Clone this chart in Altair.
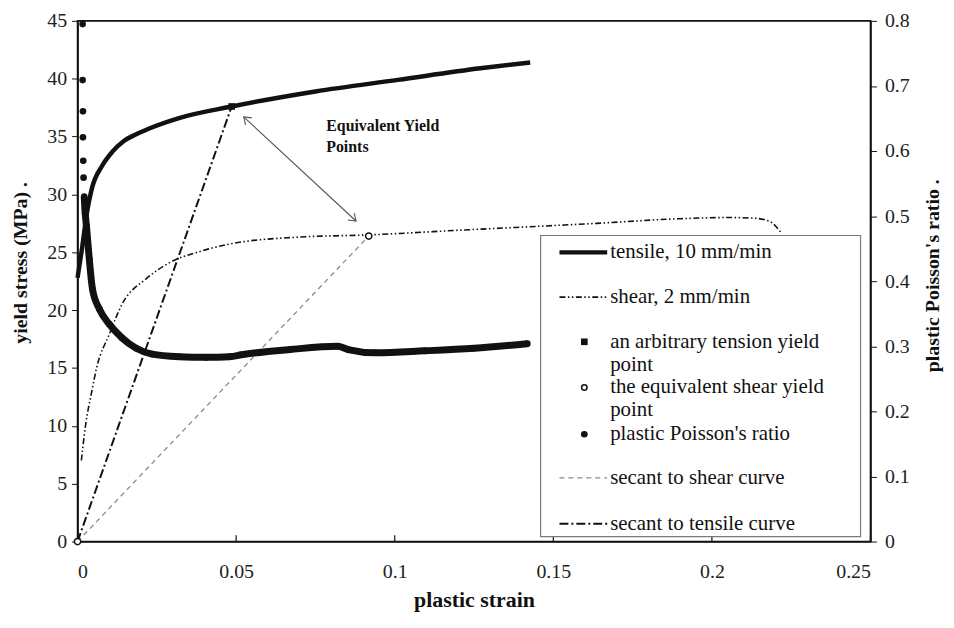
import altair as alt
import pandas as pd

# ---------------- data ----------------
tensile_x = [0.0, 0.0015, 0.003, 0.0045, 0.0078, 0.011, 0.0145, 0.0185, 0.0226, 0.032, 0.0486, 0.075, 0.101, 0.127, 0.1427]
tensile_y = [22.8, 25.5, 28.5, 30.5, 32.5, 33.7, 34.6, 35.2, 35.7, 36.6, 37.6, 38.9, 39.9, 40.9, 41.4]

shear_x = [0.0012, 0.0025, 0.0045, 0.006, 0.010, 0.014, 0.0216, 0.029, 0.039, 0.0477, 0.069, 0.0918,
           0.12, 0.1637, 0.19, 0.205, 0.213, 0.218, 0.2218]
shear_y = [7.0, 10.0, 13.0, 15.0, 17.9, 20.5, 22.7, 24.1, 25.1, 25.7, 26.3, 26.5,
           26.9, 27.5, 27.9, 28.0, 27.95, 27.7, 26.7]

poisson_x = [0.0016, 0.0016, 0.0017, 0.0017, 0.0018, 0.0019, 0.0021, 0.0024, 0.0028, 0.0037, 0.0047,
             0.0069, 0.010, 0.014, 0.0185, 0.0235, 0.032, 0.0405, 0.048, 0.0517, 0.067, 0.082,
             0.0853, 0.094, 0.1095, 0.125, 0.1418]
poisson_v = [0.795, 0.709, 0.661, 0.621, 0.585, 0.559, 0.530, 0.505, 0.485, 0.434, 0.388,
             0.357, 0.334, 0.313, 0.297, 0.288, 0.284, 0.283, 0.284, 0.287, 0.295, 0.300,
             0.295, 0.290, 0.293, 0.297, 0.304]

tension_pt_x = [0.0486]
tension_pt_y = [37.6]
shear_pt_x = [0.0, 0.0918]
shear_pt_y = [0.0, 26.4]

secant_t_x = [0.0, 0.0486]
secant_t_y = [0.0, 37.6]
secant_s_x = [0.0, 0.0918]
secant_s_y = [0.0, 26.4]

arrow_x = [0.0524, 0.0878]
arrow_y = [36.7, 27.7]
arrow_angle = [222, 42]

note_x = [0.0784]
note_y = [35.9]
note_text = ["Equivalent Yield\nPoints"]

x_ticks = [0, 0.05, 0.1, 0.15, 0.2, 0.25]
y_ticks = [0, 5, 10, 15, 20, 25, 30, 35, 40, 45]
r_ticks = [0, 0.1, 0.2, 0.3, 0.4, 0.5, 0.6, 0.7, 0.8]

legend_labels = ["tensile, 10 mm/min", "shear, 2 mm/min", "an arbitrary tension yield", "point",
                 "the equivalent shear yield", "point", "plastic Poisson's ratio",
                 "secant to shear curve", "secant to tensile curve"]

# ---------------- styling ----------------
FONT = "Liberation Serif"
INK = "#111111"
W, H = 798, 524
DASH_SHEAR = [6, 2.5, 1.5, 2.5, 1.5, 2.5]
DASH_SEC_T = [9, 3, 2, 3]
DASH_SEC_S = [5, 4]

xs = alt.Scale(domain=[0, 0.25], nice=False, zero=False)
ys = alt.Scale(domain=[0, 45], nice=False)
rs = alt.Scale(domain=[0, 0.8], nice=False)

tens_df = pd.DataFrame({"x": tensile_x, "y": tensile_y})
shear_df = pd.DataFrame({"x": shear_x, "y": shear_y})
pois_df = pd.DataFrame({"x": poisson_x, "v": poisson_v, "i": list(range(len(poisson_x)))})
tpt_df = pd.DataFrame({"x": tension_pt_x, "y": tension_pt_y})
spt_df = pd.DataFrame({"x": shear_pt_x, "y": shear_pt_y})
sect_df = pd.DataFrame({"x": secant_t_x, "y": secant_t_y})
secs_df = pd.DataFrame({"x": secant_s_x, "y": secant_s_y})
arrow_df = pd.DataFrame({"x": arrow_x, "y": arrow_y, "a": arrow_angle})
note_df = pd.DataFrame({"x": note_x, "y": note_y, "t": note_text})
xt_df = pd.DataFrame({"x": x_ticks, "y": [0.0] * len(x_ticks), "y1": [0.55] * len(x_ticks)})

x_axis = alt.Axis(values=x_ticks, format="~g", title="plastic strain", grid=False,
                  ticks=False, tickSize=0, labelPadding=20, domainColor=INK, domainWidth=1.6,
                  labelFont=FONT, labelFontSize=20, labelColor="#222", titleFont=FONT,
                  titleFontSize=22, titleFontWeight="bold", titleColor=INK,
                  titleX=399, titleY=58, titleBaseline="middle")
y_axis = alt.Axis(values=y_ticks, title="yield stress (MPa) .", grid=False, tickSize=6,
                  tickColor=INK, labelPadding=5, domainColor=INK, domainWidth=1.6,
                  labelFont=FONT, labelFontSize=20, labelColor="#222", titleFont=FONT,
                  titleFontSize=20, titleFontWeight="bold", titleColor=INK,
                  titleAngle=270, titleBaseline="middle", titleX=-57, titleY=243)
r_axis = alt.Axis(values=r_ticks, format="~g", orient="right", title="plastic Poisson's ratio .",
                  grid=False, tickSize=6, tickColor=INK, labelPadding=8, domainColor=INK,
                  domainWidth=1.6, labelFont=FONT, labelFontSize=20, labelColor="#222",
                  titleFont=FONT, titleFontSize=20, titleFontWeight="bold", titleColor=INK,
                  titleAngle=270, titleBaseline="middle", titleX=62, titleY=256)

X = alt.X("x:Q", scale=xs, axis=x_axis)
Y = alt.Y("y:Q", scale=ys, axis=y_axis)

xtick_rules = alt.Chart(xt_df).mark_rule(color=INK, strokeWidth=1.2).encode(x=X, y=Y, y2="y1:Q")
secant_s = alt.Chart(secs_df).mark_line(color="#8a8a8a", strokeWidth=1.3, strokeDash=DASH_SEC_S).encode(x=X, y=Y)
secant_t = alt.Chart(sect_df).mark_line(color=INK, strokeWidth=2, strokeDash=DASH_SEC_T).encode(x=X, y=Y)
shear_line = alt.Chart(shear_df).mark_line(color=INK, strokeWidth=1.6, strokeDash=DASH_SHEAR,
                                           interpolate="monotone").encode(x=X, y=Y)
tens_line = alt.Chart(tens_df).mark_line(color=INK, strokeWidth=4.5, interpolate="monotone").encode(x=X, y=Y)
tpt = alt.Chart(tpt_df).mark_point(shape="square", filled=True, color=INK, size=45, opacity=1).encode(x=X, y=Y)
spt = alt.Chart(spt_df).mark_point(shape="circle", filled=True, fill="white", stroke=INK, strokeWidth=1.5,
                                   size=40, opacity=1).encode(x=X, y=Y)
arrow_line = alt.Chart(arrow_df).mark_line(color="#555555", strokeWidth=1.1).encode(x=X, y=Y)
arrow_heads = alt.Chart(arrow_df).mark_point(
    shape="M-1,-0.7L0,0L-1,0.7", filled=False, color="#555555", strokeWidth=1.1, size=180, opacity=1
).encode(x=X, y=Y, angle=alt.Angle("a:Q", scale=None))
note = alt.Chart(note_df).mark_text(font=FONT, fontSize=16, fontWeight="bold", color=INK, align="left",
                                    baseline="middle", lineBreak="\n", lineHeight=21).encode(
    x=X, y=Y, text="t:N")

left = alt.layer(xtick_rules, secant_s, secant_t, shear_line, tens_line, tpt, spt,
                 arrow_line, arrow_heads, note)

RY = alt.Y("v:Q", scale=rs, axis=r_axis)
pois_line = alt.Chart(pois_df).transform_filter("datum.i >= 6").mark_line(
    color=INK, strokeWidth=7, interpolate="monotone").encode(x=X, y=RY)
pois_pts = alt.Chart(pois_df).mark_point(shape="circle", filled=True, color=INK, size=45, opacity=1).encode(
    x=X, y=RY)
right = alt.layer(pois_line, pois_pts)

# ---------------- manual legend (pixel positions inside the plot area) ----------------
one = pd.DataFrame({"k": [0]})
leg_layers = [alt.Chart(one).mark_rect(fill="white", stroke="#7a7a7a", strokeWidth=1.2).encode(
    x=alt.value(466), x2=alt.value(788), y=alt.value(216), y2=alt.value(519))]

leg_y = [233, 278, 323, 346, 369, 392, 416, 460, 506]
for lab, yy in zip(legend_labels, leg_y):
    leg_layers.append(alt.Chart(one).mark_text(font=FONT, fontSize=21, color=INK, align="left",
                                               baseline="middle").encode(
        x=alt.value(536), y=alt.value(yy), text=alt.value(lab)))


def leg_line(y, **kw):
    return alt.Chart(one).mark_rule(**kw).encode(x=alt.value(485), x2=alt.value(533), y=alt.value(y))


def leg_pt(y, **kw):
    return alt.Chart(one).mark_point(opacity=1, **kw).encode(x=alt.value(510), y=alt.value(y))


leg_layers += [
    leg_line(leg_y[0], color=INK, strokeWidth=4.5),
    leg_line(leg_y[1], color=INK, strokeWidth=1.6, strokeDash=DASH_SHEAR),
    leg_pt(leg_y[2], shape="square", filled=True, color=INK, size=45),
    leg_pt(leg_y[4], shape="circle", filled=True, fill="white", stroke=INK, strokeWidth=1.5, size=30),
    leg_pt(leg_y[6], shape="circle", filled=True, color=INK, size=45),
    leg_line(leg_y[7], color="#8a8a8a", strokeWidth=1.3, strokeDash=DASH_SEC_S),
    leg_line(leg_y[8], color=INK, strokeWidth=2, strokeDash=DASH_SEC_T),
]
legend = alt.layer(*leg_layers)

chart = alt.layer(left, right, legend).resolve_scale(y="independent").properties(
    width=W, height=H,
    autosize=alt.AutoSizeParams(type="none"),
    padding={"left": 70, "top": 11, "right": 76, "bottom": 70},
    background="white",
).configure_view(stroke=INK, strokeWidth=1.6)

chart.save("out.html", embed_options={"renderer": "svg", "actions": False})
